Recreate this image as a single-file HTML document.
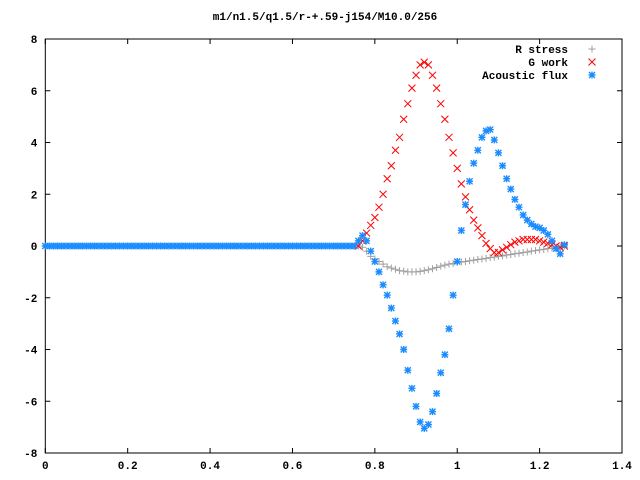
<!DOCTYPE html>
<html><head><meta charset="utf-8"><style>
html,body{margin:0;padding:0;background:#fff;}
svg{display:block;font-family:"Liberation Mono",monospace;font-weight:bold;font-size:11px;}
</style></head><body>
<svg id="chart" width="640" height="480" xmlns="http://www.w3.org/2000/svg">
<rect x="0" y="0" width="640" height="480" fill="#fff"/>
<text x="325" y="20" text-anchor="middle">m1/n1.5/q1.5/r-+.59-j154/M10.0/256</text>
<g id="axes"></g>
<g id="marks"></g>
<g id="legend"></g>
</svg>
<script>
const xTicks = [0, 0.2, 0.4, 0.6, 0.8, 1, 1.2, 1.4];
const xTickLabels = ["0", "0.2", "0.4", "0.6", "0.8", "1", "1.2", "1.4"];
const yTicks = [-8, -6, -4, -2, 0, 2, 4, 6, 8];
const yTickLabels = ["-8", "-6", "-4", "-2", "0", "2", "4", "6", "8"];
const xStart = 0.76;
const xStep = 0.01;
const flatEnd = 0.75;
const flatValue = 0;
const rStress = [0,-0.05,-0.2,-0.4,-0.5,-0.6,-0.7,-0.8,-0.85,-0.9,-0.95,-0.97,-1.0,-1.0,-1.0,-0.98,-0.95,-0.92,-0.88,-0.83,-0.78,-0.74,-0.7,-0.67,-0.64,-0.62,-0.6,-0.57,-0.55,-0.52,-0.5,-0.48,-0.45,-0.43,-0.4,-0.38,-0.35,-0.33,-0.3,-0.28,-0.25,-0.23,-0.2,-0.18,-0.15,-0.13,-0.1,-0.08,-0.05,-0.03,0.0];
const gWork = [0,0.2,0.5,0.8,1.1,1.5,2.0,2.6,3.1,3.7,4.2,4.9,5.5,6.1,6.6,7.0,7.1,7.0,6.6,6.1,5.5,4.9,4.2,3.6,3.0,2.4,1.9,1.4,1.0,0.7,0.4,0.1,-0.1,-0.25,-0.25,-0.15,-0.05,0.05,0.15,0.2,0.25,0.25,0.25,0.25,0.2,0.15,0.1,0.05,0.0,-0.05,0.0];
const acFlux = [0.2,0.4,0.2,-0.2,-0.6,-1.0,-1.5,-1.9,-2.4,-2.9,-3.4,-4.0,-4.8,-5.5,-6.2,-6.8,-7.05,-6.9,-6.4,-5.7,-4.9,-4.2,-3.2,-1.9,-0.6,0.6,1.6,2.5,3.2,3.7,4.2,4.45,4.5,4.1,3.6,3.1,2.6,2.2,1.8,1.5,1.2,1.0,0.85,0.75,0.7,0.6,0.45,0.2,-0.1,-0.3,0.05];

const X0=45.3, X1=622, Y0=453, Y1=39;
const sx = v => X0 + (v-0)/(1.4-0)*(X1-X0);
const sy = v => Y0 - (v+8)/16*(Y0-Y1);
const NS="http://www.w3.org/2000/svg";
function mk(tag, attrs, parent){const e=document.createElementNS(NS,tag);for(const k in attrs)e.setAttribute(k,attrs[k]);parent.appendChild(e);return e;}
const axes=document.getElementById('axes'), marks=document.getElementById('marks'), legend=document.getElementById('legend');
const frame=mk('rect',{x:X0,y:Y1,width:X1-X0,height:Y0-Y1,fill:'none',stroke:'#000','stroke-width':1},axes);


xTicks.forEach((t,i)=>{
  const x=sx(t);
  const l=mk('path',{d:`M${x},${Y0}v-5M${x},${Y1}v5`,stroke:'#000','stroke-width':1},axes);
  
  
  const tx=mk('text',{x:x,y:Y0+16,'text-anchor':'middle'},axes);tx.textContent=xTickLabels[i];
  
  
});
yTicks.forEach((t,i)=>{
  const y=sy(t);
  const l=mk('path',{d:`M${X0},${y}h5M${X1},${y}h-5`,stroke:'#000','stroke-width':1},axes);
  
  
  const tx=mk('text',{x:X0-8,y:y+4,'text-anchor':'end'},axes);tx.textContent=yTickLabels[i];
  
  
});
function plus(x,y,c,g){return mk('path',{d:`M${x-3.5},${y}h7M${x},${y-3.5}v7`,stroke:c,'stroke-width':1,fill:'none'},g);}
function cross(x,y,c,g){return mk('path',{d:`M${x-3.5},${y-3.5}l7,7M${x-3.5},${y+3.5}l7,-7`,stroke:c,'stroke-width':1,fill:'none'},g);}
function star(x,y,c,g){return mk('path',{d:`M${x-3.5},${y}h7M${x},${y-3.5}v7M${x-3},${y-3}l6,6M${x-3},${y+3}l6,-6`,stroke:c,'stroke-width':1.4,fill:'none'},g);}
const series=[
  {name:'r-stress',data:rStress,color:'#a0a0a0',fn:plus,flat:false},
  {name:'g-work',data:gWork,color:'#ff0000',fn:cross,flat:false},
  {name:'acoustic-flux',data:acFlux,color:'#1a8cff',fn:star,flat:true}
];
series.forEach(s=>{
  const g=mk('g',{},marks);
  
  
  if(s.flat){
    for(let i=0;xStep*i<=flatEnd+1e-9;i++){
      const p=s.fn(sx(xStep*i),sy(flatValue),s.color,g);
      
      
    }
  }
  s.data.forEach((v,i)=>{
    const p=s.fn(sx(xStart+xStep*i),sy(v),s.color,g);
    
    
  });
});
const labels=['R stress','G work','Acoustic flux'];
series.forEach((s,i)=>{
  const y=49+i*13;
  const t=mk('text',{x:568,y:y+4,'text-anchor':'end'},legend);t.textContent=labels[i];
  
  
  const m=s.fn(592,y,s.color,legend);
  
  
});
</script>
</body></html>
